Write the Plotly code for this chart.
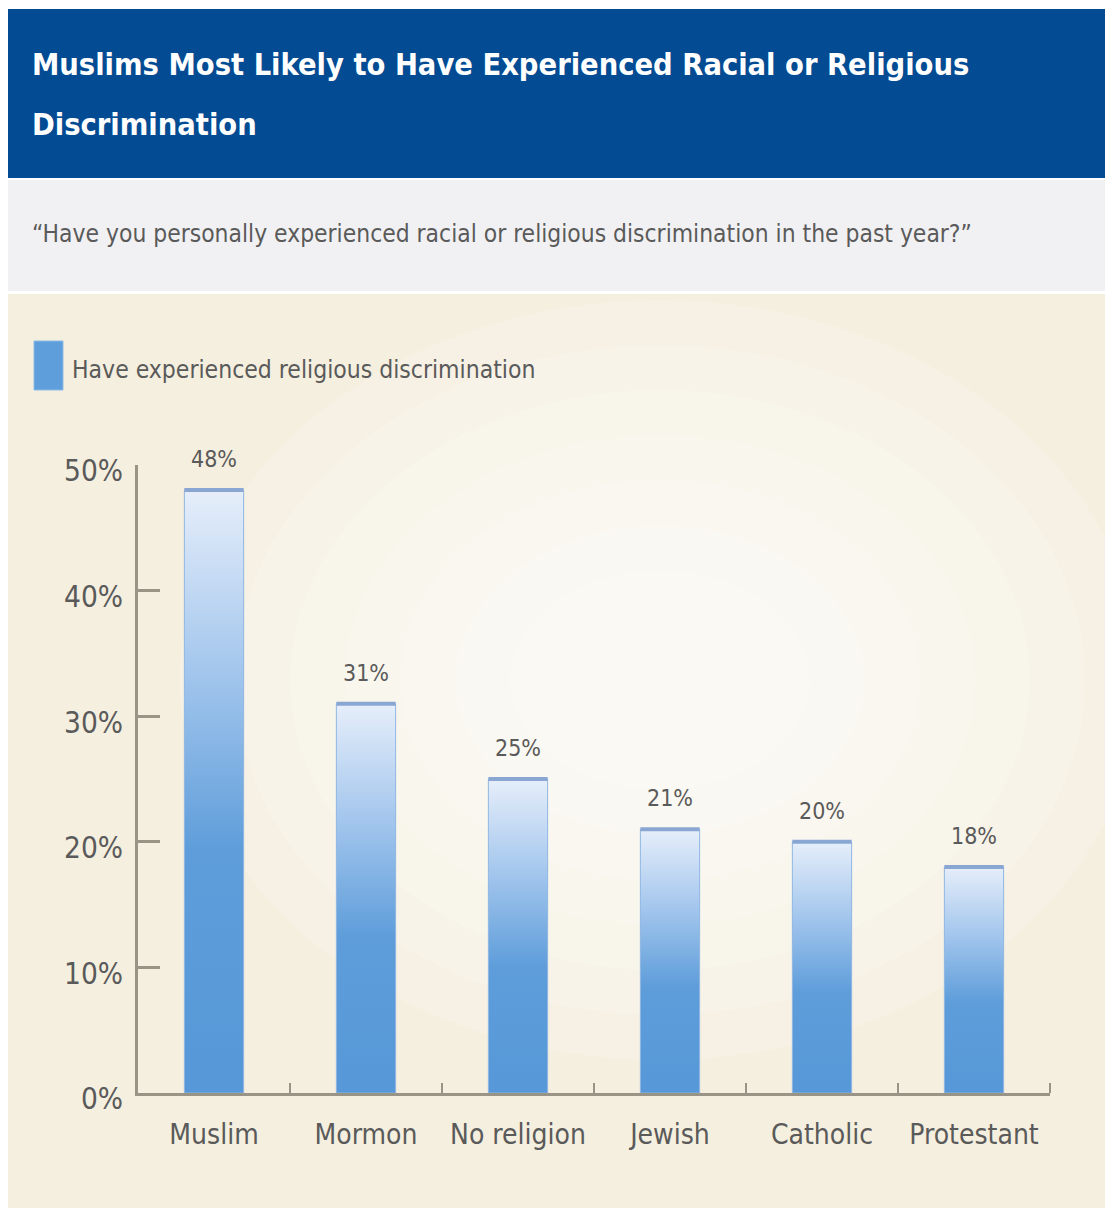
import plotly.graph_objects as go

# ---- data ----
categories = ["Muslim", "Mormon", "No religion", "Jewish", "Catholic", "Protestant"]
values = [48, 31, 25, 21, 20, 18]
y_ticks = [0, 10, 20, 30, 40, 50]
y_tick_labels = ["0%", "10%", "20%", "30%", "40%", "50%"]
title_lines = ["Muslims Most Likely to Have Experienced Racial or Religious", "Discrimination"]
subtitle_text = "\u201cHave you personally experienced racial or religious discrimination in the past year?\u201d"
legend_text = "Have experienced religious discrimination"

# ---- layout geometry (page pixels; page has an 8px body margin) ----
OFF = 8
W, H = 1113 - OFF, 1208 - OFF
# plot area in page pixels
PX0, PX1, PY0, PY1 = 138, 1050, 465, 1093
L, R, T, B = PX0 - OFF, (W + OFF) - PX1, PY0 - OFF, (H + OFF) - PY1
PW, PH = PX1 - PX0, PY1 - PY0
FONT = "DejaVu Sans Condensed, Liberation Sans Narrow, Roboto, sans-serif"
GRAY = "#5a5a5a"
AXIS = "#9a9486"


def px(x):
    return (x - PX0) / PW


def py(y):
    return (PY1 - y) / PH


fig = go.Figure()

bar_w = 0.39
for i, (c, v) in enumerate(zip(categories, values)):
    x0, x1 = i - bar_w / 2, i + bar_w / 2
    fig.add_trace(go.Scatter(
        x=[x0, x1, x1, x0, x0], y=[0, 0, v, v, 0],
        mode="lines", fill="toself", line=dict(width=1, color="#8fb6e2"),
        fillgradient=dict(type="vertical",
                          colorscale=[[0, "#5698d8"], [0.4, "#5e9dda"],
                                      [0.7, "#a3c6ed"], [1, "#e6eefa"]]),
        name=c, showlegend=False, hoverinfo="skip"))
    # top cap
    fig.add_trace(go.Scatter(
        x=[x0, x1], y=[v, v], mode="lines",
        line=dict(color="#8aa7d4", width=4), showlegend=False, hoverinfo="skip"))

shapes = []
# header blue band
shapes.append(dict(type="rect", xref="paper", yref="paper", layer="below",
                   x0=px(8), x1=px(1113), y0=py(178), y1=py(9),
                   fillcolor="#034b93", line=dict(width=0)))
# subtitle gray band
shapes.append(dict(type="rect", xref="paper", yref="paper", layer="below",
                   x0=px(8), x1=px(1113), y0=py(291), y1=py(180),
                   fillcolor="#f1f1f3", line=dict(width=0)))
# beige chart panel
shapes.append(dict(type="rect", xref="paper", yref="paper", layer="below",
                   x0=px(8), x1=px(1113), y0=py(1208), y1=py(294),
                   fillcolor="#f5efdf", line=dict(width=0)))
# soft radial glow
for k in range(7):
    rx, ry = 480 - k * 55, 380 - k * 45
    cx, cy = 660, 680
    shapes.append(dict(type="circle", xref="paper", yref="paper", layer="below",
                       x0=px(cx - rx), x1=px(cx + rx), y0=py(cy + ry), y1=py(cy - ry),
                       fillcolor="rgba(255,255,252,0.16)", line=dict(width=0)))
# legend swatch
shapes.append(dict(type="rect", xref="paper", yref="paper",
                   x0=px(34), x1=px(63), y0=py(390), y1=py(341),
                   fillcolor="#5d9edb", line=dict(width=1, color="#8fbbe8")))

annotations = []
for line_text, cy in zip(title_lines, [65, 125]):
    annotations.append(dict(text="<b>" + line_text + "</b>", xref="paper", yref="paper",
                            x=px(30), y=py(cy), xanchor="left", yanchor="middle",
                            showarrow=False, font=dict(family=FONT, size=30.5, color="white")))
annotations += [
    dict(text=subtitle_text, xref="paper", yref="paper",
         x=px(30), y=py(233), xanchor="left", yanchor="middle",
         showarrow=False, font=dict(family=FONT, size=24.4, color=GRAY)),
    dict(text=legend_text, xref="paper", yref="paper",
         x=px(70), y=py(369), xanchor="left", yanchor="middle",
         showarrow=False, font=dict(family=FONT, size=24.5, color=GRAY)),
]
for i, v in enumerate(values):
    annotations.append(dict(text=f"{v}%", x=i, y=v, xref="x", yref="y",
                            yanchor="bottom", yshift=16, showarrow=False,
                            font=dict(family=FONT, size=23, color=GRAY)))

fig.update_layout(
    width=W, height=H,
    margin=dict(l=L, r=R, t=T, b=B, pad=0),
    paper_bgcolor="white", plot_bgcolor="rgba(0,0,0,0)",
    shapes=shapes, annotations=annotations,
    showlegend=False,
    font=dict(family=FONT, color=GRAY),
    xaxis=dict(range=[-0.5, len(categories) - 0.5], tickvals=list(range(len(categories))),
               ticktext=categories, ticks="", showgrid=False, zeroline=False,
               showline=True, linecolor=AXIS, linewidth=3,
               tickfont=dict(family=FONT, size=28, color=GRAY), ticklabelstandoff=14,
               minor=dict(tickvals=[i + 0.5 for i in range(len(categories))],
                          ticks="inside", ticklen=10, tickwidth=2, tickcolor=AXIS)),
    yaxis=dict(range=[0, 50], tickvals=y_ticks, ticktext=y_tick_labels, ticks="inside",
               ticklen=22, tickwidth=3, tickcolor=AXIS, showgrid=False, zeroline=False,
               showline=True, linecolor=AXIS, linewidth=3,
               tickfont=dict(family=FONT, size=29.5, color=GRAY), ticklabelstandoff=6,
               ticklabelshift=6),
)

fig.write_html("out.html")
